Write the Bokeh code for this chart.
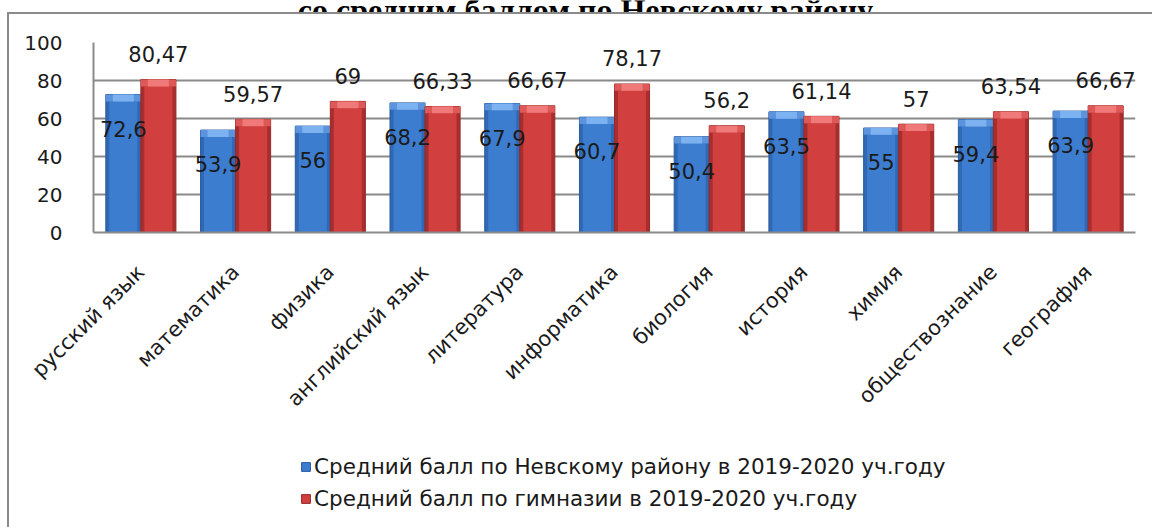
import math
from bokeh.plotting import figure
from bokeh.layouts import column
from bokeh.models import (ColumnDataSource, FactorRange, Range1d, FixedTicker, Legend,
                          LegendItem)
from bokeh.transform import dodge
from bokeh.core.properties import value
from bokeh.embed import file_html
from bokeh.resources import INLINE

categories = ["русский язык", "математика", "физика", "английский язык", "литература",
              "информатика", "биология", "история", "химия", "обществознание", "география"]
district = [72.6, 53.9, 56, 68.2, 67.9, 60.7, 50.4, 63.5, 55, 59.4, 63.9]
gymnasium = [80.47, 59.57, 69, 66.33, 66.67, 78.17, 56.2, 61.14, 57, 63.54, 66.67]
y_ticks = [0, 20, 40, 60, 80, 100]
series_names = ["Средний балл по Невскому району в 2019-2020 уч.году",
                "Средний балл по гимназии в 2019-2020 уч.году"]
title_text = "со средним баллом по Невскому району"

FONT = "DejaVu Sans"
BW = 0.37
OFF = 0.185
BEVEL = 3.6
GREY = "#8a8a8a"
W = 1152
H_TOP, H_MAIN, H_LEG = 12, 428, 87
ML, MR = 93, 17


def fmt(v):
    return f"{v:g}".replace(".", ",")


def strip(height):
    f = figure(width=W, height=height, x_range=Range1d(ML, W - MR), y_range=Range1d(0, height),
               output_backend="svg", toolbar_location=None,
               min_border_left=ML, min_border_right=MR, min_border_top=0, min_border_bottom=0)
    f.outline_line_color = None
    f.background_fill_color = None
    f.border_fill_alpha = 0
    f.xaxis.visible = False
    f.yaxis.visible = False
    f.grid.visible = False
    return f


# ---------- title strip (only the lower part of the title is visible) ----------
p0 = strip(H_TOP)
p0.styles = {"background-color": "white"}
p0.text(x=[585], y=[2.5], text=[title_text], text_font=value("Liberation Serif"),
        text_font_style="bold", text_font_size="32px", text_align="center",
        text_baseline="alphabetic", text_color="black")

# ---------- main chart ----------
src = ColumnDataSource(dict(
    cat=categories,
    blue=district,
    red=gymnasium,
    blue_bev=[v - BEVEL for v in district],
    red_bev=[v - BEVEL for v in gymnasium],
    blue_lbl=[fmt(v) for v in district],
    red_lbl=[fmt(v) for v in gymnasium],
    blue_ly=[v - 18 for v in district],
    red_ly=[v + 13.5 for v in gymnasium],
))

p = figure(width=W, height=H_MAIN, x_range=FactorRange(*categories, range_padding=0),
           y_range=Range1d(0, 100), output_backend="svg", toolbar_location=None,
           min_border_left=ML, min_border_right=MR, min_border_top=30, min_border_bottom=208)
p.outline_line_color = None
p.background_fill_color = "white"
p.border_fill_alpha = 0
p.styles = {
    "background-color": "white",
    "background-image": f"linear-gradient({GREY}, {GREY}), linear-gradient({GREY}, {GREY})",
    "background-size": "2px 100%, 100% 2px",
    "background-position": "7px 0px, 7px 0px",
    "background-repeat": "no-repeat",
}

bx = dodge("cat", -OFF, range=p.x_range)
rx = dodge("cat", OFF, range=p.x_range)

BLUE = dict(body="#3068b4", edge="#2a5a9c", mid="#3d7dcf", bev="#5b93dc", hi="#7cb2f0")
RED = dict(body="#a82e2e", edge="#962828", mid="#d23f3f", bev="#df5858", hi="#f07a7a")

for xx, col, bev, c in ((bx, "blue", "blue_bev", BLUE), (rx, "red", "red_bev", RED)):
    p.vbar(x=xx, top=col, bottom=0, width=BW, source=src,
           fill_color=c["body"], line_color=c["edge"], line_width=1)
    p.vbar(x=xx, top=bev, bottom=0, width=BW * 0.8, source=src,
           fill_color=c["mid"], line_color=None)
    p.vbar(x=xx, top=col, bottom=bev, width=BW, source=src,
           fill_color=c["bev"], line_color=None)
    p.vbar(x=xx, top=col, bottom=bev, width=BW * 0.6, source=src,
           fill_color=c["hi"], line_color=None)

# data labels
p.text(x=bx, y="blue_ly", text="blue_lbl", source=src, text_font=value(FONT),
       text_font_size="21px", text_align="center", text_baseline="middle", text_color="#1a1a1a")
p.text(x=rx, y="red_ly", text="red_lbl", source=src, text_font=value(FONT),
       text_font_size="21px", text_align="center", text_baseline="middle", text_color="#1a1a1a")

# axes / grid
p.xgrid.grid_line_color = None
p.ygrid.ticker = FixedTicker(ticks=y_ticks)
p.ygrid.grid_line_color = GREY
p.ygrid.grid_line_width = 2

p.yaxis.ticker = FixedTicker(ticks=y_ticks)
p.yaxis.major_tick_line_color = None
p.yaxis.minor_tick_line_color = None
p.yaxis.axis_line_color = GREY
p.yaxis.axis_line_width = 2
p.yaxis.major_label_text_font = FONT
p.yaxis.major_label_text_font_size = "20px"
p.yaxis.major_label_text_color = "#1a1a1a"
p.yaxis.major_label_standoff = 25

p.xaxis.major_tick_line_color = None
p.xaxis.minor_tick_line_color = None
p.xaxis.axis_line_color = GREY
p.xaxis.axis_line_width = 2
p.xaxis.major_label_orientation = math.pi / 4
p.xaxis.major_label_text_font = FONT
p.xaxis.major_label_text_font_size = "21px"
p.xaxis.major_label_text_color = "#1a1a1a"
p.xaxis.major_label_standoff = 30

# ---------- legend strip ----------
p2 = strip(H_LEG)
p2.styles = {
    "background-color": "white",
    "background-image": f"linear-gradient({GREY}, {GREY})",
    "background-size": "2px 100%",
    "background-position": "7px 0px",
    "background-repeat": "no-repeat",
}
# legend-only renderers (their single point lies far outside the visible range)
lg_blue = p2.vbar(x=[-5000], top=[-5000], bottom=[-5001], width=1,
                  fill_color=BLUE["mid"], line_color=BLUE["edge"])
lg_red = p2.vbar(x=[-5000], top=[-5000], bottom=[-5001], width=1,
                 fill_color=RED["mid"], line_color=RED["edge"])
legend = Legend(items=[LegendItem(label=series_names[0], renderers=[lg_blue]),
                       LegendItem(label=series_names[1], renderers=[lg_red])],
                location=(300 - ML, 16), glyph_width=11, glyph_height=11, label_standoff=3,
                spacing=6, label_height=26, padding=0, margin=0,
                border_line_color=None, background_fill_alpha=0,
                label_text_font=FONT, label_text_font_size="21.5px", label_text_color="#1a1a1a")
p2.add_layout(legend)

layout = column(p0, p, p2, spacing=0)
open("out.html", "w").write(file_html(layout, INLINE))
